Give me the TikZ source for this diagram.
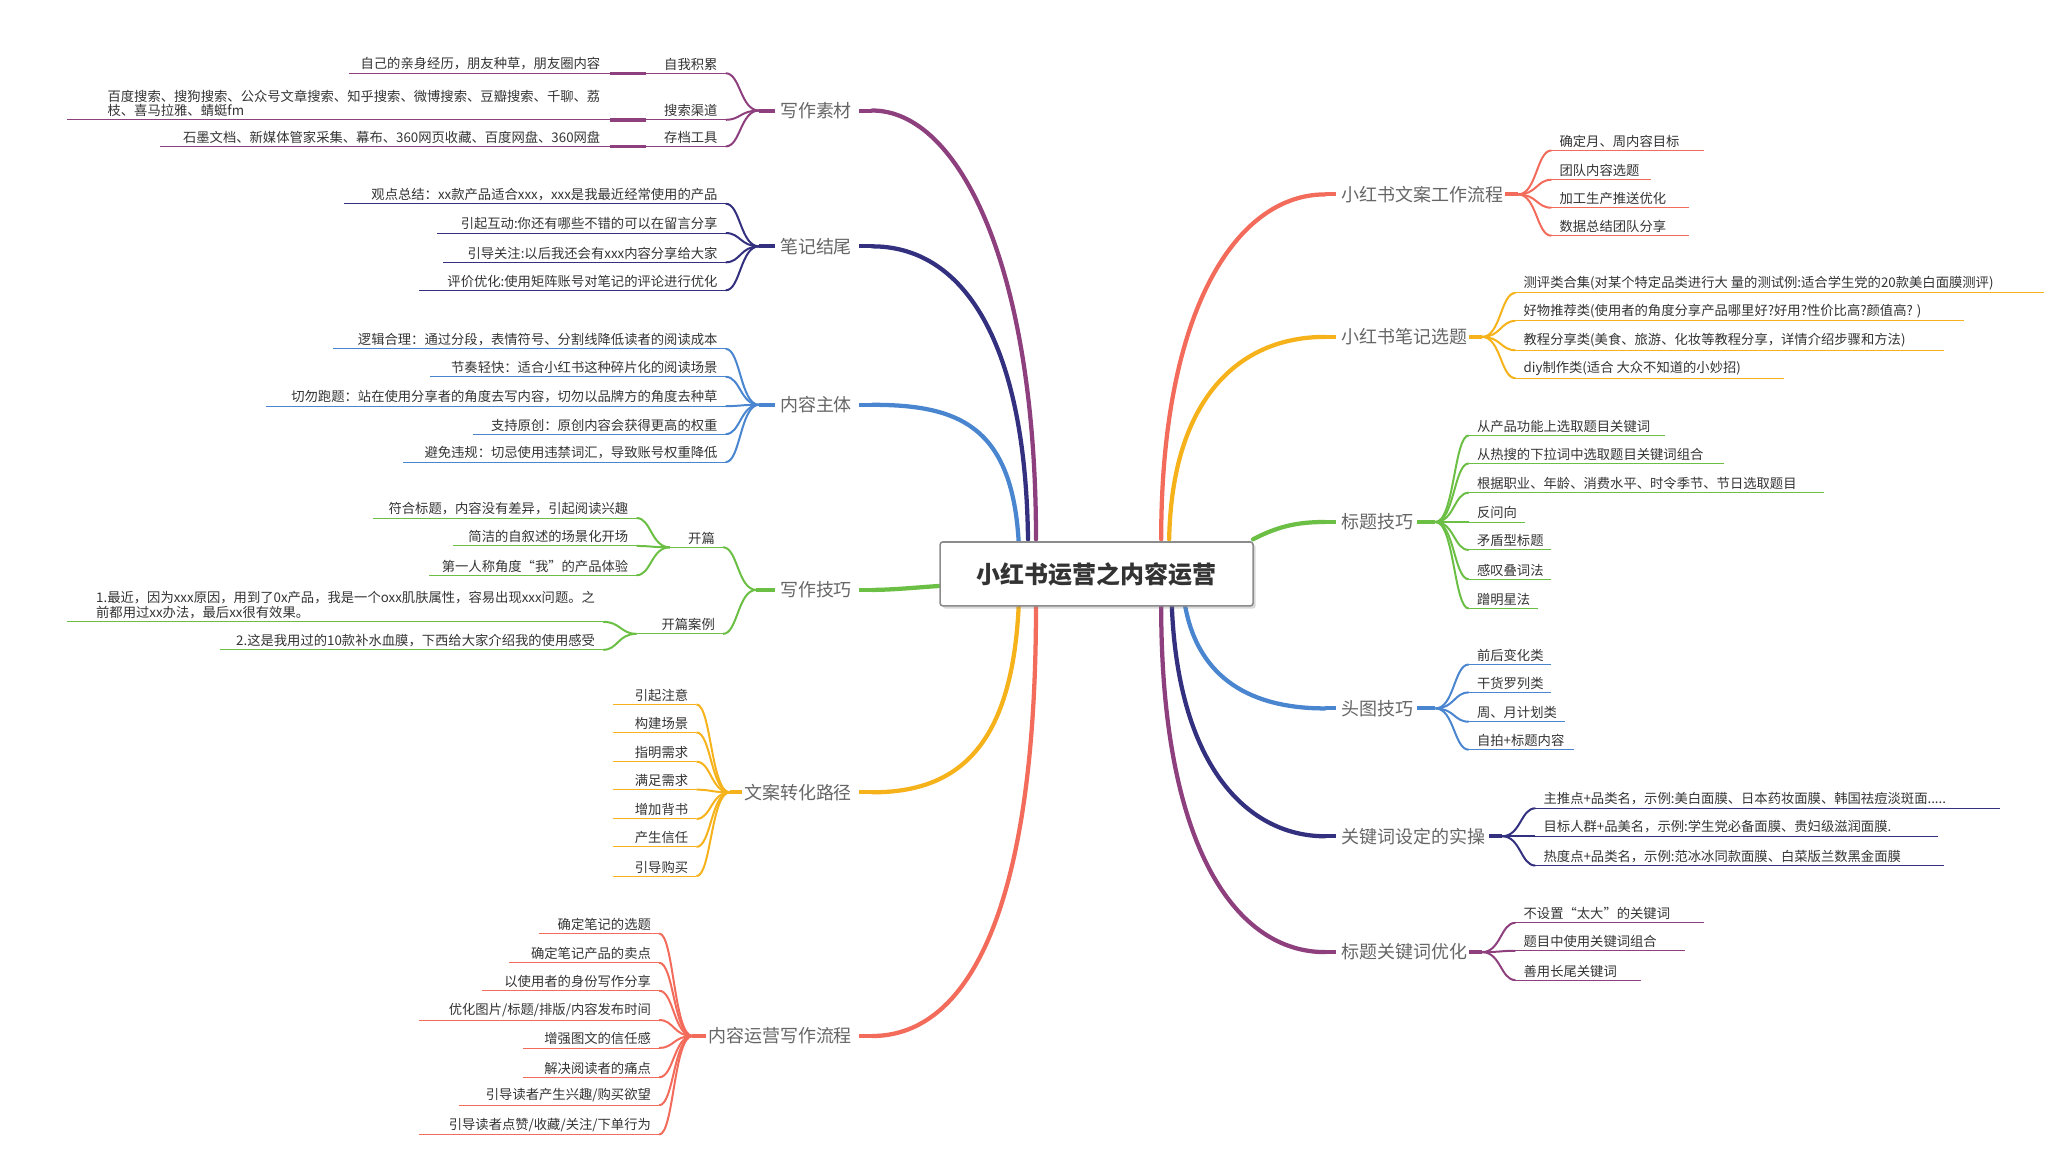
\documentclass[tikz,border=0pt]{standalone}
\usepackage{fontspec}
\setmainfont{Noto Sans CJK SC}
\usetikzlibrary{shadows}
\definecolor{cP}{HTML}{8E3F7E}
\definecolor{cI}{HTML}{33307F}
\definecolor{cB}{HTML}{4A86D0}
\definecolor{cG}{HTML}{6CBF45}
\definecolor{cO}{HTML}{F5B21B}
\definecolor{cR}{HTML}{F26B5B}
% left child: col, Jx, Jy, y, xl, name, text
\newcommand\Lc[7]{%
 \coordinate (#6-e) at ({#2-25},#4);
 \node[leaf,anchor=south east] (#6) at ({#2-30},{#4-1}) {#7};
 \draw[#1,sub] (#2,#3) .. controls ({#2-14},#3) and ({#2-14},#4) .. (#6-e);
 \draw[#1,ul] (#6-e) -- (#5,#4);}
% right child: col, Jx, Jy, y, xr, name, text
\newcommand\Rc[7]{%
 \coordinate (#6-e) at ({#2+25},#4);
 \node[leaf,anchor=south west] (#6) at ({#2+30},{#4-1}) {#7};
 \draw[#1,sub] (#2,#3) .. controls ({#2+14},#3) and ({#2+14},#4) .. (#6-e);
 \draw[#1,ul] (#6-e) -- (#5,#4);}
% left straight leaf: col, xstart, y, xr, xl, name, text
\newcommand\Ll[7]{%
 \coordinate (#6-e) at (#4,#3);
 \node[leaf,anchor=south east,align=left] (#6) at ({#4-6},{#3-1}) {#7};
 \draw[#1,line width=2.5pt] (#2,#3) -- (#6-e);
 \draw[#1,ul] (#6-e) -- (#5,#3);}
\begin{document}
\begin{tikzpicture}[x=1pt,y=-1pt,
 main/.style={line width=3.2pt,line cap=round},
 stub/.style={line width=3pt},
 sub/.style={line width=1.5pt},
 ul/.style={line width=0.7pt},
 leaf/.style={font=\fontsize{10}{11}\selectfont,text=black!80,inner sep=1pt},
 lbl/.style={font=\fontsize{13.5}{15}\selectfont,text=black!60,inner sep=0pt}]
\useasboundingbox (0,0) rectangle (1550,869);

% ---------- main curves ----------
\coordinate (m1) at (655,83);  \coordinate (m2) at (655,185); \coordinate (m3) at (655,304);
\coordinate (m4) at (655,443); \coordinate (m5) at (655,595); \coordinate (m6) at (655,778);
\coordinate (r1) at (995,146); \coordinate (r2) at (995,253); \coordinate (r3) at (995,392);
\coordinate (r4) at (995,532); \coordinate (r5) at (995,628); \coordinate (r6) at (995,715);
\draw[main,cP] (778,405) .. controls (778,200) and (720,83) .. (m1);
\draw[main,cI] (772,405) .. controls (770,250) and (720,185) .. (m2);
\draw[main,cB] (765,407) .. controls (760,320) and (720,304) .. (m3);
\draw[main,cG] (706,440) .. controls (690,441) and (670,443) .. (m4);
\draw[main,cO] (765,455) .. controls (760,560) and (720,595) .. (m5);
\draw[main,cR] (778,455) .. controls (778,700) and (720,778) .. (m6);
\draw[main,cR] (872,405) .. controls (872,230) and (930,146) .. (r1);
\draw[main,cO] (878,405) .. controls (880,300) and (930,253) .. (r2);
\draw[main,cG] (941,405) .. controls (960,395) and (975,392) .. (r3);
\draw[main,cB] (890,455) .. controls (900,510) and (940,532) .. (r4);
\draw[main,cI] (880,455) .. controls (885,580) and (940,628) .. (r5);
\draw[main,cP] (872,455) .. controls (872,640) and (930,715) .. (r6);

% ---------- main labels ----------
\node[lbl,anchor=east] (L1) at (640,83) {写作素材};
\node[lbl,anchor=east] (L2) at (640,185) {笔记结尾};
\node[lbl,anchor=east] (L3) at (640,304) {内容主体};
\node[lbl,anchor=east] (L4) at (640,443) {写作技巧};
\node[lbl,anchor=east] (L5) at (640,595) {文案转化路径};
\node[lbl,anchor=east] (L6) at (640,778) {内容运营写作流程};
\node[lbl,anchor=west] (R1) at (1007,146) {小红书文案工作流程};
\node[lbl,anchor=west] (R2) at (1007,253) {小红书笔记选题};
\node[lbl,anchor=west] (R3) at (1007,392) {标题技巧};
\node[lbl,anchor=west] (R4) at (1007,532) {头图技巧};
\node[lbl,anchor=west] (R5) at (1007,628) {关键词设定的实操};
\node[lbl,anchor=west] (R6) at (1007,715) {标题关键词优化};
\draw[stub,cP] (m1) -- (645,83);
\draw[stub,cI] (m2) -- (645,185);
\draw[stub,cB] (m3) -- (645,304);
\draw[stub,cG] (m4) -- (645,443);
\draw[stub,cO] (m5) -- (645,595);
\draw[stub,cR] (m6) -- (645,778);
\draw[stub,cR] (r1) -- (1003,146);
\draw[stub,cO] (r2) -- (1003,253);
\draw[stub,cG] (r3) -- (1003,392);
\draw[stub,cB] (r4) -- (1003,532);
\draw[stub,cI] (r5) -- (1003,628);
\draw[stub,cP] (r6) -- (1003,715);

% ---------- 写作素材 ----------
\draw[stub,cP] (582,83) -- (570,83);
\Lc{cP}{570}{83}{55}{485}{a1}{自我积累}
\Lc{cP}{570}{83}{90}{485}{a2}{搜索渠道}
\Lc{cP}{570}{83}{110}{485}{a3}{存档工具}
\Ll{cP}{485}{55}{458}{262}{a1l}{自己的亲身经历，朋友种草，朋友圈内容}
\Ll{cP}{485}{90}{458}{50}{a2l}{百度搜索、搜狗搜索、公众号文章搜索、知乎搜索、微博搜索、豆瓣搜索、千聊、荔\\枝、喜马拉雅、蜻蜓fm}
\Ll{cP}{485}{110}{458}{120}{a3l}{石墨文档、新媒体管家采集、幕布、360网页收藏、百度网盘、360网盘}

% ---------- 笔记结尾 ----------
\draw[stub,cI] (582,185) -- (570,185);
\Lc{cI}{570}{185}{153}{258}{b1}{观点总结：xx款产品适合xxx，xxx是我最近经常使用的产品}
\Lc{cI}{570}{185}{175}{328}{b2}{引起互动:你还有哪些不错的可以在留言分享}
\Lc{cI}{570}{185}{197}{333}{b3}{引导关注:以后我还会有xxx内容分享给大家}
\Lc{cI}{570}{185}{218}{315}{b4}{评价优化:使用矩阵账号对笔记的评论进行优化}

% ---------- 内容主体 ----------
\draw[stub,cB] (582,304) -- (570,304);
\Lc{cB}{570}{304}{262}{250}{c1}{逻辑合理：通过分段，表情符号、分割线降低读者的阅读成本}
\Lc{cB}{570}{304}{283}{323}{c2}{节奏轻快：适合小红书这种碎片化的阅读场景}
\Lc{cB}{570}{304}{305}{200}{c3}{切勿跑题：站在使用分享者的角度去写内容，切勿以品牌方的角度去种草}
\Lc{cB}{570}{304}{326}{355}{c4}{支持原创：原创内容会获得更高的权重}
\Lc{cB}{570}{304}{347}{303}{c5}{避免违规：切忌使用违禁词汇，导致账号权重降低}

% ---------- 写作技巧 ----------
\draw[stub,cG] (582,443) -- (568,443);
\Lc{cG}{568}{443}{411}{503}{d1}{开篇}
\Lc{cG}{568}{443}{476}{478}{d2}{开篇案例}
\Lc{cG}{503}{411}{389}{280}{d11}{符合标题，内容没有差异，引起阅读兴趣}
\Lc{cG}{503}{411}{410}{340}{d12}{简洁的自叙述的场景化开场}
\Lc{cG}{503}{411}{432}{322}{d13}{第一人称角度“我”的产品体验}
\coordinate (d21-e) at (453,467);
\node[leaf,anchor=south east,align=left] (d21) at (448,466) {1.最近，因为xxx原因，用到了0x产品，我是一个oxx肌肤属性，容易出现xxx问题。之\\前都用过xx办法，最后xx很有效果。};
\draw[cG,sub] (478,476) .. controls (466,476) and (466,467) .. (d21-e);
\draw[cG,ul] (d21-e) -- (50,467);
\Lc{cG}{478}{476}{488}{165}{d22}{2.这是我用过的10款补水血膜，下西给大家介绍我的使用感受}

% ---------- 文案转化路径 ----------
\draw[stub,cO] (557,595) -- (548,595);
\Lc{cO}{548}{595}{529}{460}{e1}{引起注意}
\Lc{cO}{548}{595}{550}{460}{e2}{构建场景}
\Lc{cO}{548}{595}{572}{460}{e3}{指明需求}
\Lc{cO}{548}{595}{593}{460}{e4}{满足需求}
\Lc{cO}{548}{595}{615}{460}{e5}{增加背书}
\Lc{cO}{548}{595}{636}{460}{e6}{产生信任}
\Lc{cO}{548}{595}{658}{460}{e7}{引导购买}

% ---------- 内容运营写作流程 ----------
\draw[stub,cR] (530,778) -- (520,778);
\Lc{cR}{520}{778}{701}{405}{f1}{确定笔记的选题}
\Lc{cR}{520}{778}{723}{382}{f2}{确定笔记产品的卖点}
\Lc{cR}{520}{778}{744}{362}{f3}{以使用者的身份写作分享}
\Lc{cR}{520}{778}{766}{315}{f4}{优化图片/标题/排版/内容发布时间}
\Lc{cR}{520}{778}{787}{393}{f5}{增强图文的信任感}
\Lc{cR}{520}{778}{809}{393}{f6}{解决阅读者的痛点}
\Lc{cR}{520}{778}{830}{345}{f7}{引导读者产生兴趣/购买欲望}
\Lc{cR}{520}{778}{852}{315}{f8}{引导读者点赞/收藏/关注/下单行为}

% ---------- 小红书文案工作流程 ----------
\draw[stub,cR] (1130,146) -- (1140,146);
\Rc{cR}{1140}{146}{113}{1280}{g1}{确定月、周内容目标}
\Rc{cR}{1140}{146}{135}{1240}{g2}{团队内容选题}
\Rc{cR}{1140}{146}{156}{1268}{g3}{加工生产推送优化}
\Rc{cR}{1140}{146}{177}{1268}{g4}{数据总结团队分享}

% ---------- 小红书笔记选题 ----------
\draw[stub,cO] (1103,253) -- (1113,253);
\Rc{cO}{1113}{253}{220}{1535}{h1}{测评类合集(对某个特定品类进行大 量的测试例:适合学生党的20款美白面膜测评)}
\Rc{cO}{1113}{253}{241}{1475}{h2}{好物推荐类(使用者的角度分享产品哪里好?好用?性价比高?颜值高? )}
\Rc{cO}{1113}{253}{263}{1460}{h3}{教程分享类(美食、旅游、化妆等教程分享，详情介绍步骤和方法)}
\Rc{cO}{1113}{253}{284}{1340}{h4}{diy制作类(适合 大众不知道的小妙招)}

% ---------- 标题技巧 ----------
\draw[stub,cG] (1064,392) -- (1078,392);
\Rc{cG}{1078}{392}{327}{1250}{i1}{从产品功能上选取题目关键词}
\Rc{cG}{1078}{392}{348}{1295}{i2}{从热搜的下拉词中选取题目关键词组合}
\Rc{cG}{1078}{392}{370}{1370}{i3}{根据职业、年龄、消费水平、时令季节、节日选取题目}
\Rc{cG}{1078}{392}{392}{1145}{i4}{反问向}
\Rc{cG}{1078}{392}{413}{1165}{i5}{矛盾型标题}
\Rc{cG}{1078}{392}{435}{1165}{i6}{感叹叠词法}
\Rc{cG}{1078}{392}{457}{1155}{i7}{蹭明星法}

% ---------- 头图技巧 ----------
\draw[stub,cB] (1064,532) -- (1078,532);
\Rc{cB}{1078}{532}{499}{1165}{j1}{前后变化类}
\Rc{cB}{1078}{532}{520}{1165}{j2}{干货罗列类}
\Rc{cB}{1078}{532}{542}{1175}{j3}{周、月计划类}
\Rc{cB}{1078}{532}{563}{1182}{j4}{自拍+标题内容}

% ---------- 关键词设定的实操 ----------
\draw[stub,cI] (1118,628) -- (1128,628);
\Rc{cI}{1128}{628}{607}{1502}{k1}{主推点+品类名，示例:美白面膜、日本药妆面膜、韩国祛痘淡斑面.....}
\Rc{cI}{1128}{628}{628}{1455}{k2}{目标人群+品美名，示例:学生党必备面膜、贵妇级滋润面膜.}
\Rc{cI}{1128}{628}{650}{1460}{k3}{热度点+品类名，示例:范冰冰同款面膜、白菜版兰数黑金面膜}

% ---------- 标题关键词优化 ----------
\draw[stub,cP] (1103,715) -- (1113,715);
\Rc{cP}{1113}{715}{693}{1280}{l1}{不设置“太大”的关键词}
\Rc{cP}{1113}{715}{714}{1265}{l2}{题目中使用关键词组合}
\Rc{cP}{1113}{715}{736}{1232}{l3}{善用长尾关键词}

% ---------- center ----------
\node[draw=black!45,line width=1.2pt,fill=white,rounded corners=2pt,
 drop shadow={shadow xshift=2pt,shadow yshift=-2pt,opacity=0.3},
 minimum width=235pt,minimum height=48pt,
 font=\fontsize{18}{20}\selectfont\bfseries,text=black!80] (C) at (823.5,431) {小红书运营之内容运营};
\end{tikzpicture}
\end{document}
